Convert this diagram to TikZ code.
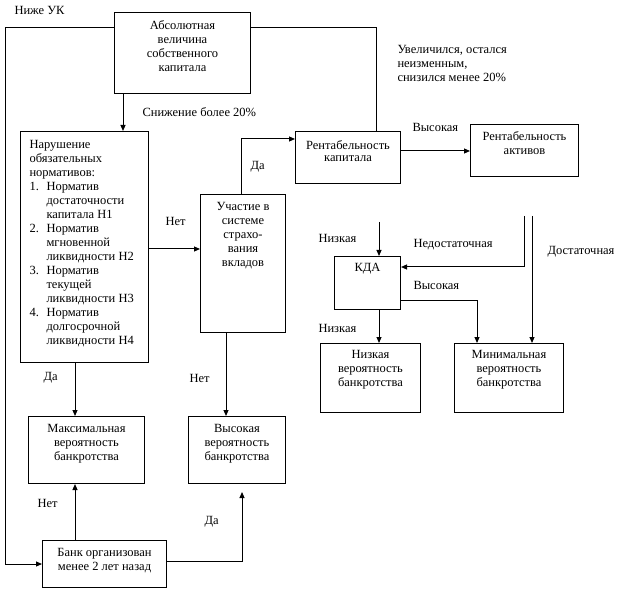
\documentclass[tikz,border=0pt]{standalone}
\usepackage{fontspec}
\setmainfont{Liberation Serif}
\usetikzlibrary{arrows.meta,calc}
\newcommand\fs{\fontsize{12.5}{14}\selectfont}
\newcommand\bx[4]{\parbox[c][#2pt][t]{#1pt}{\centering\vspace*{#3pt}#4}}
\newcommand\numit[1]{\makebox[17pt][l]{#1}}
\begin{document}
\begin{tikzpicture}[x=1pt,y=-1pt,line width=1pt,
  arr/.style={-{Triangle[length=6pt,width=5pt]}},
  box/.style={draw,inner sep=0pt,anchor=north west,font=\fs},
  lbl/.style={inner sep=0pt,anchor=base west,font=\fs}]
\useasboundingbox (0,0) rectangle (623,593);
% boxes
\node[box] (abs) at (114,12) {\bx{136}{81}{8}{Абсолютная\\величина\\собственного\\капитала}};
\node[box] (naru) at (20,131) {\parbox[c][231pt][t]{128pt}{\raggedright\leftskip=9pt\vspace*{9pt}Нарушение\\обязательных\\нормативов:\\
\numit{1.}Норматив\\\hspace*{17pt}достаточности\\\hspace*{17pt}капитала Н1\\
\numit{2.}Норматив\\\hspace*{17pt}мгновенной\\\hspace*{17pt}ликвидности Н2\\
\numit{3.}Норматив\\\hspace*{17pt}текущей\\\hspace*{17pt}ликвидности Н3\\
\numit{4.}Норматив\\\hspace*{17pt}долгосрочной\\\hspace*{17pt}ликвидности Н4}};
\node[box] (uch) at (200,194) {\bx{85}{138}{8}{Участие в\\системе\\страхо-\\вания\\вкладов}};
\node[box] (rk) at (295,131) {\bx{105}{52}{9}{Рентабельность\\[-2pt]капитала}};
\node[box] (ra) at (470,124) {\bx{108}{52}{7}{Рентабельность\\активов}};
\node[box] (kda) at (334,256) {\bx{66}{53}{7}{КДА}};
\node[box] (nizk) at (320,343) {\bx{100}{69}{7}{Низкая\\вероятность\\банкротства}};
\node[box] (min) at (454,343) {\bx{109}{69}{7}{Минимальная\\вероятность\\банкротства}};
\node[box] (max) at (28,416) {\bx{116}{67}{8}{Максимальная\\вероятность\\банкротства}};
\node[box] (vys) at (188,416) {\bx{97}{67}{8}{Высокая\\вероятность\\банкротства}};
\node[box] (bank) at (42,540) {\bx{124}{47}{8}{Банк организован\\менее 2 лет назад}};
% free ends
\coordinate (c1) at (524,216);
\coordinate (c2) at (532,216);
\coordinate (c3) at (379,222);
\coordinate (c4) at (242,492);
% connectors
\draw[arr] (abs.north west) ++(0,16) -- ++(-109,0) |- (bank.west);
\draw (abs.north east) ++(0,16) -| ($(rk.north west)+(81,0)$);
\draw[arr] ($(abs.south west)+(9,0)$) -- ($(naru.north west)+(103,0)$);
\draw[arr] (naru.east |- 0,249) -- (uch.west |- 0,249);
\draw[arr] ($(uch.north west)+(41,0)$) |- (rk.west |- 0,139);
\draw[arr] (rk.east |- 0,151) -- (ra.west |- 0,151);
\draw[arr] (c1) |- (kda.east |- 0,267);
\draw[arr] (c2) -- (c2 |- min.north);
\draw[arr] (c3) -- (c3 |- kda.north);
\draw[arr] (kda.east |- 0,300) -| ($(min.north west)+(23,0)$);
\draw[arr] (kda.south -| 379,0) -- (nizk.north -| 379,0);
\draw[arr] (naru.south -| 75,0) -- (max.north -| 75,0);
\draw[arr] (uch.south -| 226,0) -- (vys.north -| 226,0);
\draw[arr] (bank.north -| 75,0) -- (max.south -| 75,0);
\draw[arr] (bank.east |- 0,561) -| (c4);
% labels
\node[lbl] (l1) at (14,15) {Ниже УК};
\node[lbl] (l2) at (142,117) {Снижение более 20\%};
\node[lbl] (l3) at (397,54) {\parbox[t]{170pt}{Увеличился, остался\\неизменным,\\снизился менее 20\%}};
\node[lbl] (l4) at (412,132) {Высокая};
\node[lbl] (l5) at (165,226) {Нет};
\node[lbl] (l6) at (250,170) {Да};
\node[lbl] (l7) at (318,243) {Низкая};
\node[lbl] (l8) at (413,248) {Недостаточная};
\node[lbl] (l9) at (547,255) {Достаточная};
\node[lbl] (l10) at (413,290) {Высокая};
\node[lbl] (l11) at (318,332) {Низкая};
\node[lbl] (l12) at (43,380) {Да};
\node[lbl] (l13) at (189,382) {Нет};
\node[lbl] (l14) at (37,507) {Нет};
\node[lbl] (l15) at (204,524) {Да};
\end{tikzpicture}
\end{document}
